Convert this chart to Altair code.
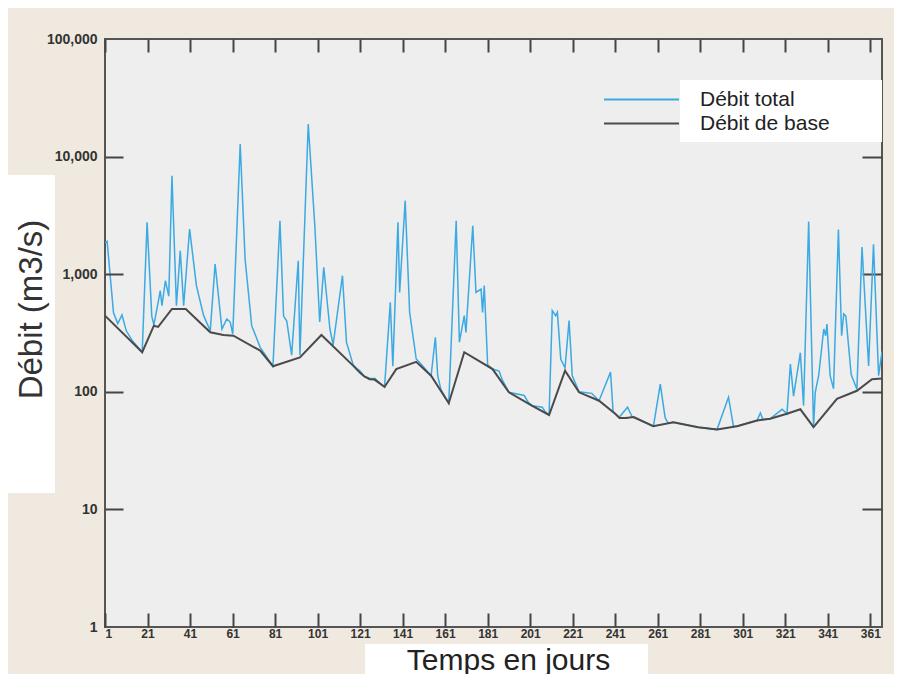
import altair as alt
import pandas as pd

# ---- data ----
series_total = "Débit total"
series_base = "Débit de base"

days_total = [1, 2, 5, 7, 9, 11, 14, 18.5, 20.8, 23, 24, 26, 27, 27.8, 29.4, 31, 32.5, 34.6, 36.4, 38,
              40.8, 44, 47.4, 50.5, 52.8, 56, 58.3, 59.9, 61.1, 64.6, 66.9, 70, 74, 80, 83.3, 85, 86.5,
              88.8, 91.9, 92.7, 96.6, 99.7, 102, 103.9, 106.8, 108.3, 112.7, 114.6, 117.7, 120, 121, 123,
              125.5, 128, 130, 132.5, 135.2, 136.4, 138.8, 139.6, 142.2, 144.3, 147.4, 150, 153, 154.4,
              156.4, 157.5, 159, 162.7, 166.2, 167.7, 170, 170.8, 174, 175.5, 177.9, 178.6, 179.4, 181,
              183.3, 186.4, 188, 191, 198.2, 200, 202, 206.7, 208, 209.9, 211.4, 213, 213.8, 215.4, 217.4,
              219.3, 220.8, 224, 230, 233.4, 238.8, 240, 241, 243, 246.8, 249, 259, 262.2, 264.5, 266,
              268.5, 280, 288.9, 294.3, 296.6, 298.3, 307.7, 309.3, 310.5, 313.9, 319.5, 321.8, 323.4,
              324.9, 328.1, 329.6, 332, 334.3, 335.1, 336.7, 339.1, 340, 340.6, 342.1, 343.7, 346, 347.5,
              348.5, 349.5, 352, 354.7, 357.1, 360.2, 362.5, 364.9, 366.5]
vals_total = [1850, 1900, 470, 380, 450, 330, 270, 217, 2760, 440, 370, 577, 724, 540, 880, 650, 6880, 540,
              1585, 540, 2420, 800, 444, 330, 1220, 342, 416, 392, 310, 12800, 1346, 365, 239, 165, 2850,
              440, 400, 205, 1300, 205, 18900, 2585, 392, 1145, 342, 250, 971, 263, 170, 155, 150, 135,
              130, 130, 120, 110, 577, 165, 2760, 700, 4220, 474, 190, 170, 146, 137, 291, 137, 105, 80,
              2850, 264, 444, 320, 2585, 700, 748, 474, 800, 170, 156, 150, 125, 99, 93, 82, 76, 74, 68,
              63.5, 490, 444, 474, 189, 160, 403, 137, 100, 97, 84, 147, 68, 65, 61, 74, 61, 51, 116, 60,
              54, 55, 50, 47.7, 90, 51, 51, 57, 66, 58, 59, 71, 65, 172, 92, 215, 76, 2800, 50, 99, 137,
              342, 300, 376, 137, 106, 2400, 300, 460, 440, 140, 105, 1700, 166, 1800, 137, 220]

days_base = [1, 18.5, 24, 26, 32.5, 39, 50.5, 56.7, 61.4, 74, 80, 92.7, 102.8, 117.7, 121, 123, 125.5,
             127.8, 132.5, 138, 147.4, 154.4, 162.7, 170, 183.3, 191, 202, 209.9, 217.4, 224, 233.4, 241,
             243, 246, 249.7, 258.9, 268.3, 280, 288.9, 298.3, 307.7, 313.9, 321.8, 328.1, 334.3, 345.3,
             354.7, 361.8, 366.5]
vals_base = [444, 217, 365, 356, 506, 506, 321, 304, 300, 224, 165, 196, 304, 167, 145, 135, 128, 127,
             110, 156, 180, 137, 80, 217, 156, 99, 76, 63.5, 151, 99, 84, 65, 60, 60, 61, 51, 55, 50,
             47.7, 51, 57, 59, 65, 71, 50, 87, 102, 128, 130]

x_ticks = [1, 21, 41, 61, 81, 101, 121, 141, 161, 181, 201, 221, 241, 261, 281, 301, 321, 341, 361]
y_ticks = [1, 10, 100, 1000, 10000, 100000]
y_inner_ticks = [10, 100, 1000, 10000]

df_total = pd.DataFrame({"jour": days_total, "debit": vals_total, "serie": series_total})
df_base = pd.DataFrame({"jour": days_base, "debit": vals_base, "serie": series_base})
one = pd.DataFrame({"k": [0]})

W, H = 777, 588
BLUE, DARK = "#3ba9e2", "#4a4a4a"
FONT = "Liberation Sans"

x_scale = alt.Scale(domain=[1, 366.5], nice=False, zero=False)
y_scale = alt.Scale(type="log", domain=[1, 100000], nice=False)
color_scale = alt.Scale(domain=[series_total, series_base], range=[BLUE, DARK])

# long horizontal stroke symbol: path spans 10 units, scaled by sqrt(size)/2
legend = alt.Legend(title=None, orient="none", legendX=526, legendY=50, symbolType="M-5,0H5",
                    symbolSize=225, symbolStrokeWidth=2, symbolFillColor="transparent",
                    labelFont=FONT, labelFontSize=21, labelColor="#222", labelOffset=48,
                    rowPadding=2, padding=0)

x_axis = alt.Axis(orient="bottom", values=x_ticks, offset=-14, tickSize=14, tickWidth=2,
                  tickColor="#444", domain=False, grid=False, labelPadding=1, labelFont=FONT,
                  labelFontSize=12, labelFontWeight="bold", labelColor="#333",
                  title="Temps en jours", titleFont=FONT, titleFontSize=30, titleFontWeight="normal",
                  titleColor="#222", titleX=403, titleY=56, titleBaseline="alphabetic",
                  titleAlign="center", zindex=1)
y_axis = alt.Axis(orient="left", values=y_ticks, format=",", offset=-18, tickSize=18, tickWidth=2,
                  tickColor="#444",
                  tickOpacity={"condition": {"test": "datum.value == 1 || datum.value == 100000",
                                             "value": 0}, "value": 1},
                  domain=False, grid=False, labelPadding=8, labelFont=FONT, labelFontSize=14,
                  labelFontWeight="bold", labelColor="#333",
                  title="Débit (m3/s)", titleFont=FONT,
                  titleFontSize=33, titleFontWeight="normal", titleColor="#333", titleAngle=270,
                  titleX=-82, titleY=270, titleBaseline="alphabetic", titleAlign="center", zindex=1)

# decorative white boxes (title and legend backgrounds)
box_y = alt.Chart(one).mark_rect(color="white").encode(
    x=alt.value(-97), x2=alt.value(-50), y=alt.value(136), y2=alt.value(454))
box_x = alt.Chart(one).mark_rect(color="white").encode(
    x=alt.value(260), x2=alt.value(543), y=alt.value(605), y2=alt.value(650))
box_leg = alt.Chart(one).mark_rect(color="white").encode(
    x=alt.value(575), x2=alt.value(W), y=alt.value(41), y2=alt.value(103))

total = alt.Chart(df_total).mark_line(strokeWidth=1.5, clip=True).encode(
    x=alt.X("jour:Q", scale=x_scale, axis=x_axis),
    y=alt.Y("debit:Q", scale=y_scale, axis=y_axis),
    color=alt.Color("serie:N", scale=color_scale, legend=legend),
)
base = alt.Chart(df_base).mark_line(strokeWidth=2, clip=True).encode(
    x=alt.X("jour:Q", scale=x_scale, axis=None),
    y=alt.Y("debit:Q", scale=y_scale, axis=None),
    color=alt.Color("serie:N", scale=color_scale, legend=legend),
)
frame = alt.Chart(df_base).mark_line(opacity=0).encode(
    x=alt.X("jour:Q", scale=x_scale,
            axis=alt.Axis(orient="top", values=x_ticks, labels=False, title=None, domain=False,
                          grid=False, offset=-13, tickSize=13, tickWidth=2, tickColor="#444")),
    y=alt.Y("debit:Q", scale=y_scale,
            axis=alt.Axis(orient="right", values=y_inner_ticks, labels=False, title=None,
                          domain=False, grid=False, offset=-20, tickSize=20, tickWidth=2,
                          tickColor="#444")),
)

chart = alt.layer(box_y, box_x, box_leg, total, base, frame).resolve_axis(
    x="independent", y="independent"
).properties(
    width=W, height=H,
    autosize=alt.AutoSizeParams(type="none"),
    padding={"left": 97, "top": 31, "right": 12, "bottom": 47},
    background="#efe9df",
).configure_view(fill="#eeeeee", stroke="#555555", strokeWidth=2)

chart.save("out.html", embed_options={"renderer": "svg", "actions": False})
